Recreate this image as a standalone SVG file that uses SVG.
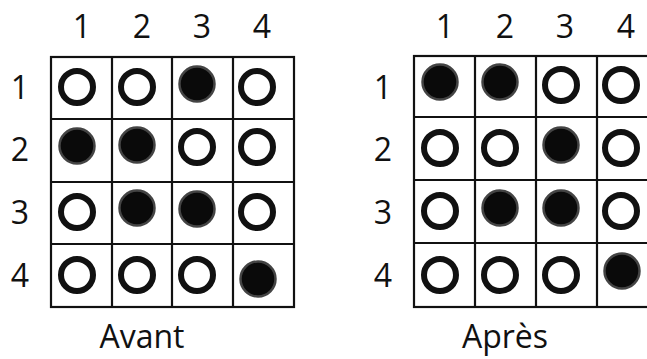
<svg xmlns="http://www.w3.org/2000/svg" xmlns:xlink="http://www.w3.org/1999/xlink" width="647" height="359" viewBox="0 0 647 359">
<style>
.lbl{font-family:"Open Sans","Liberation Sans",sans-serif;font-size:32px;fill:#111;text-anchor:middle}
.grid{fill:none;stroke:#111;stroke-width:2.2}
.ring{fill:none;stroke:#111;stroke-width:6}
.dot{fill:#0a0a0a;stroke:#444;stroke-width:2.5}
</style>
<defs>
<circle id="o" class="ring" r="16"/>
<circle id="d" class="dot" r="17.5"/>
</defs>
<rect width="647" height="359" fill="#fff"/>
<g id="avant">
<g class="grid">
<rect x="51" y="57" width="243" height="250"/>
<path d="M112 57V307M172 57V307M233 57V307M51 119H294M51 182H294M51 244H294"/>
</g>
<g class="lbl">
<text x="82" y="38">1</text><text x="142" y="38">2</text><text x="202" y="38">3</text><text x="262" y="38">4</text>
<text x="20" y="99">1</text><text x="20" y="161">2</text><text x="20" y="224">3</text><text x="20" y="287">4</text>
<text x="142" y="348">Avant</text>
</g>
<use href="#o" x="77" y="87"/><use href="#o" x="137" y="87"/><use href="#d" x="197" y="84"/><use href="#o" x="257" y="87"/>
<use href="#d" x="77" y="146"/><use href="#d" x="137" y="145"/><use href="#o" x="197" y="147"/><use href="#o" x="257" y="147"/>
<use href="#o" x="77" y="212"/><use href="#d" x="137" y="208"/><use href="#d" x="197" y="209"/><use href="#o" x="257" y="212"/>
<use href="#o" x="77" y="275"/><use href="#o" x="137" y="275"/><use href="#o" x="197" y="275"/><use href="#d" x="258" y="279"/>
</g>
<g id="apres">
<g class="grid">
<rect x="414" y="56" width="244" height="251"/>
<path d="M475 56V307M536 56V307M597 56V307M414 117H658M414 180H658M414 243H658"/>
</g>
<g class="lbl">
<text x="445" y="38">1</text><text x="505" y="38">2</text><text x="565" y="38">3</text><text x="626" y="38">4</text>
<text x="383" y="99">1</text><text x="383" y="161">2</text><text x="383" y="224">3</text><text x="383" y="287">4</text>
<text x="505" y="348">Après</text>
</g>
<use href="#d" x="440" y="82"/><use href="#d" x="500" y="82"/><use href="#o" x="561" y="85"/><use href="#o" x="621" y="85"/>
<use href="#o" x="440" y="148"/><use href="#o" x="500" y="148"/><use href="#d" x="561" y="145"/><use href="#o" x="621" y="148"/>
<use href="#o" x="440" y="211"/><use href="#d" x="500" y="208"/><use href="#d" x="561" y="208"/><use href="#o" x="621" y="211"/>
<use href="#o" x="440" y="275"/><use href="#o" x="500" y="275"/><use href="#o" x="561" y="275"/><use href="#d" x="622" y="271"/>
</g>
</svg>
